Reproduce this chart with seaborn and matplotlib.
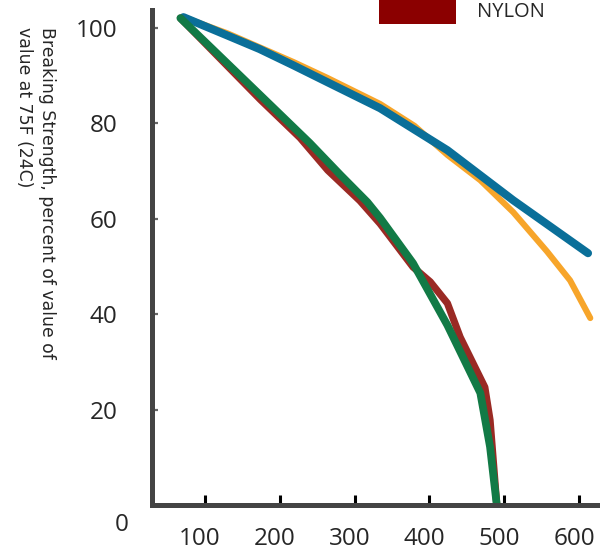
import numpy as np
import pandas as pd
import matplotlib
matplotlib.use("Agg")
import matplotlib.pyplot as plt
import matplotlib.transforms as mtransforms
from matplotlib.patches import Patch
import seaborn as sns

# values
orange_x = [71, 130, 218, 263, 334, 380, 424, 468, 512, 557, 588, 615]
orange_y = [102.3, 98.9, 92.9, 89.6, 84.1, 79.5, 73.4, 68.1, 61.4, 53.2, 47.1, 39.2]

blue_x = [71, 129, 173, 218, 263, 334, 424, 512, 612]
blue_y = [102.3, 98.5, 95.6, 92.2, 88.7, 83.2, 74.4, 63.9, 52.8]

red_x = [67, 174, 227, 264, 307, 334, 378, 401, 424, 441, 474, 481, 490]
red_y = [102.1, 85.0, 77.0, 70.2, 63.8, 59.0, 49.9, 46.8, 42.3, 35.2, 24.7, 17.8, 0]

green_x = [67, 174, 240, 281, 317, 334, 378, 424, 468, 481, 490]
green_y = [102.1, 85.9, 75.9, 69.2, 63.5, 60.2, 50.7, 37.7, 23.5, 12.2, 0]

x_ticks = [100, 200, 300, 400, 500, 600]
y_ticks = [0, 20, 40, 60, 80, 100]
legend_label = "NYLON"
y_title = "Breaking Strength, percent of value of\nvalue at 75F (24C)"

sns.set_theme(style="white")
plt.rcParams["font.family"] = ["Open Sans", "DejaVu Sans"]

fig = plt.figure(figsize=(6.03, 5.47), dpi=100)
ax = fig.add_axes([152 / 603, 42 / 547, 445 / 603, 495 / 547])

sns.lineplot(x=orange_x, y=orange_y, color="#f7a52a", linewidth=4.4, sort=False, ax=ax)
sns.lineplot(x=blue_x, y=blue_y, color="#0a6f99", linewidth=5.8, sort=False, ax=ax)
sns.lineplot(x=red_x, y=red_y, color="#9a2a24", linewidth=5.2, sort=False, ax=ax)
sns.lineplot(x=green_x, y=green_y, color="#127a46", linewidth=5.6, sort=False, ax=ax)

ax.set_xlim(29, 624)
ax.set_ylim(0, 103.8)

for side in ["top", "right"]:
    ax.spines[side].set_visible(False)
for side in ["left", "bottom"]:
    ax.spines[side].set_color("#444444")
    ax.spines[side].set_linewidth(3.6)

ax.set_xticks(x_ticks)
ax.set_xticklabels([str(v) for v in x_ticks])
ax.set_yticks(y_ticks)
ax.set_yticklabels([str(v) for v in y_ticks])
ax.tick_params(axis="x", direction="in", length=7.5, width=2.2, color="black",
               labelsize=17.5, pad=16, bottom=True)
ax.tick_params(axis="y", direction="in", length=4.5, width=1.6, color="#666666",
               labelsize=17.5, pad=25, left=True)

# shift x labels a bit left, and drop the "0" label below the corner
shift = mtransforms.ScaledTranslation(-5 / 100, 0, fig.dpi_scale_trans)
for lab in ax.get_xticklabels():
    lab.set_transform(lab.get_transform() + shift)
zero = ax.get_yticklabels()[0]
zero.set_transform(zero.get_transform() + mtransforms.ScaledTranslation(11 / 100, -17 / 100, fig.dpi_scale_trans))

ax.set_ylabel(y_title, rotation=-90, ha="left", va="center", rotation_mode="anchor",
              fontsize=12.4, linespacing=1.4, family="DejaVu Sans")
ax.yaxis.set_label_coords(-0.262, 0.966)

fig.legend(handles=[Patch(facecolor="#8b0000", edgecolor="none")], labels=[legend_label],
           loc="lower left", bbox_to_anchor=(379 / 603, 1 - 24 / 547), frameon=False,
           fontsize=14.5, handlelength=3.8, handleheight=1.7, handletextpad=1.05,
           borderpad=0, borderaxespad=0)

fig.savefig("out.png", dpi=100)
